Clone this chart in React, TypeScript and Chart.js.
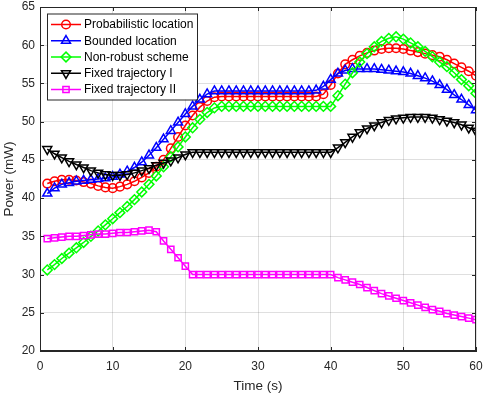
import React, { useEffect, useRef } from "react";
import { Chart, registerables } from "chart.js";

Chart.register(...registerables);

const times = [
  1, 2, 3, 4, 5, 6, 7, 8, 9, 10, 11, 12, 13, 14, 15, 16, 17, 18, 19, 20,
  21, 22, 23, 24, 25, 26, 27, 28, 29, 30, 31, 32, 33, 34, 35, 36, 37, 38, 39, 40,
  41, 42, 43, 44, 45, 46, 47, 48, 49, 50, 51, 52, 53, 54, 55, 56, 57, 58, 59, 60,
];

const probabilistic = [
  41.9, 42.2, 42.4, 42.4, 42.3, 42.1, 41.9, 41.6, 41.4, 41.3,
  41.5, 41.8, 42.2, 42.7, 43.3, 44.1, 45.0, 46.5, 48.0, 49.5,
  50.8, 51.9, 52.7, 53.2, 53.3, 53.3, 53.3, 53.3, 53.3, 53.3,
  53.3, 53.3, 53.3, 53.3, 53.3, 53.3, 53.3, 53.3, 53.6, 54.8,
  56.3, 57.5, 58.1, 58.6, 59.0, 59.3, 59.5, 59.6, 59.6, 59.5,
  59.3, 59.1, 58.9, 58.7, 58.5, 58.1, 57.6, 57.1, 56.6, 56.0,
];

const bounded = [
  40.6, 41.3, 41.8, 42.0, 42.2, 42.3, 42.4, 42.5, 42.6, 42.8,
  43.1, 43.5, 44.0, 44.7, 45.6, 46.6, 47.7, 48.8, 49.9, 51.0,
  52.0, 52.9, 53.6, 54.0, 54.0, 54.0, 54.0, 54.0, 54.0, 54.0,
  54.0, 54.0, 54.0, 54.0, 54.0, 54.0, 54.0, 54.1, 54.6, 55.5,
  56.3, 56.7, 56.9, 56.9, 56.9, 56.9, 56.8, 56.7, 56.6, 56.5,
  56.3, 56.0, 55.7, 55.3, 54.8, 54.2, 53.5, 52.9, 52.2, 51.5,
];

const nonRobust = [
  30.6, 31.3, 32.1, 32.8, 33.5, 34.2, 35.0, 35.7, 36.5, 37.3,
  38.1, 38.9, 39.8, 40.8, 41.8, 42.9, 44.1, 45.4, 46.7, 48.0,
  49.2, 50.3, 51.2, 51.8, 52.0, 52.0, 52.0, 52.0, 52.0, 52.0,
  52.0, 52.0, 52.0, 52.0, 52.0, 52.0, 52.0, 52.0, 52.0, 52.0,
  53.4, 54.9, 56.4, 57.8, 58.9, 59.8, 60.5, 60.9, 61.1, 60.8,
  60.3, 59.8, 59.2, 58.5, 57.8, 57.2, 56.4, 55.5, 54.7, 53.7,
];

const fixedI = [
  46.4, 45.8, 45.3, 44.8, 44.4, 44.0, 43.6, 43.3, 43.1, 43.0,
  43.0, 43.1, 43.3, 43.6, 43.9, 44.3, 44.6, 44.9, 45.3, 45.7,
  46.0, 46.0, 46.0, 46.0, 46.0, 46.0, 46.0, 46.0, 46.0, 46.0,
  46.0, 46.0, 46.0, 46.0, 46.0, 46.0, 46.0, 46.0, 46.0, 46.0,
  46.6, 47.3, 48.0, 48.6, 49.1, 49.5, 49.9, 50.2, 50.4, 50.5,
  50.6, 50.6, 50.6, 50.5, 50.3, 50.1, 49.9, 49.6, 49.2, 48.8,
];

const fixedII = [
  34.7, 34.8, 34.9, 35.0, 35.0, 35.1, 35.2, 35.3, 35.3, 35.4,
  35.5, 35.5, 35.6, 35.7, 35.8, 35.6, 34.4, 33.3, 32.2, 31.1,
  30.0, 30.0, 30.0, 30.0, 30.0, 30.0, 30.0, 30.0, 30.0, 30.0,
  30.0, 30.0, 30.0, 30.0, 30.0, 30.0, 30.0, 30.0, 30.0, 30.0,
  29.6, 29.3, 29.0, 28.7, 28.3, 27.9, 27.5, 27.2, 26.9, 26.6,
  26.3, 26.0, 25.7, 25.4, 25.2, 24.9, 24.7, 24.5, 24.3, 24.1,
];

const seriesLabels = [
  "Probabilistic location",
  "Bounded location",
  "Non-robust scheme",
  "Fixed trajectory I",
  "Fixed trajectory II",
];
const seriesValues = [probabilistic, bounded, nonRobust, fixedI, fixedII];
const seriesColors = ["#ff0000", "#0000ff", "#00ff00", "#000000", "#ff00ff"];
const seriesMarkers = ["circle", "triangle", "rectRot", "triangleDown", "rect"];

const xTicks = [0, 10, 20, 30, 40, 50, 60];
const yTicks = [20, 25, 30, 35, 40, 45, 50, 55, 60, 65];

const AXIS_COLOR = "#262626";
const FONT_FAMILY = "'Liberation Sans', Arial, Helvetica, sans-serif";

function markerRadius(m: string) {
  if (m === "circle") return 4.3;
  if (m === "rect") return 4.4;
  if (m === "rectRot") return 4.9;
  return 5.2;
}

function drawMarker(ctx: CanvasRenderingContext2D, m: string, x: number, y: number, color: string) {
  const r = markerRadius(m);
  ctx.save();
  ctx.strokeStyle = color;
  ctx.lineWidth = 1.5;
  ctx.beginPath();
  if (m === "circle") {
    ctx.arc(x, y, r, 0, Math.PI * 2);
  } else if (m === "rect") {
    const s = r * Math.SQRT1_2;
    ctx.rect(x - s, y - s, 2 * s, 2 * s);
  } else if (m === "rectRot") {
    ctx.moveTo(x, y - r);
    ctx.lineTo(x + r, y);
    ctx.lineTo(x, y + r);
    ctx.lineTo(x - r, y);
    ctx.closePath();
  } else {
    const dir = m === "triangle" ? 1 : -1;
    for (let i = 0; i < 3; i++) {
      const a = (i * 2 * Math.PI) / 3;
      const px = x + Math.sin(a) * r;
      const py = y - dir * Math.cos(a) * r;
      if (i === 0) ctx.moveTo(px, py);
      else ctx.lineTo(px, py);
    }
    ctx.closePath();
  }
  ctx.stroke();
  ctx.restore();
}

const framePlugin = {
  id: "frameAndLegend",
  afterDraw(chart: any) {
    const ctx: CanvasRenderingContext2D = chart.ctx;
    const { left, right, top, bottom } = chart.chartArea;
    const xs = chart.scales.x;
    const ys = chart.scales.y;
    ctx.save();
    ctx.strokeStyle = AXIS_COLOR;
    ctx.lineWidth = 1;
    ctx.strokeRect(left + 0.5, top + 0.5, right - left - 1, bottom - top - 1);
    const tl = 4;
    ctx.beginPath();
    for (const t of xTicks) {
      const px = Math.round(xs.getPixelForValue(t)) + 0.5;
      ctx.moveTo(px, bottom);
      ctx.lineTo(px, bottom - tl);
      ctx.moveTo(px, top);
      ctx.lineTo(px, top + tl);
    }
    for (const t of yTicks) {
      const py = Math.round(ys.getPixelForValue(t)) + 0.5;
      ctx.moveTo(left, py);
      ctx.lineTo(left + tl, py);
      ctx.moveTo(right, py);
      ctx.lineTo(right - tl, py);
    }
    ctx.stroke();

    // legend box
    const bx = 47, by = 13.5, bw = 150, bh = 86;
    ctx.fillStyle = "#ffffff";
    ctx.fillRect(bx, by, bw, bh);
    ctx.strokeStyle = AXIS_COLOR;
    ctx.lineWidth = 1;
    ctx.strokeRect(bx + 0.5, by + 0.5, bw, bh);
    ctx.font = `12px ${FONT_FAMILY}`;
    ctx.textBaseline = "middle";
    ctx.textAlign = "left";
    seriesLabels.forEach((label, i) => {
      const ry = 24.5 + i * 16.25;
      ctx.strokeStyle = seriesColors[i];
      ctx.lineWidth = 1.5;
      ctx.beginPath();
      ctx.moveTo(51, ry);
      ctx.lineTo(81, ry);
      ctx.stroke();
      drawMarker(ctx, seriesMarkers[i], 66, ry, seriesColors[i]);
      ctx.fillStyle = "#000000";
      ctx.fillText(label, 84, ry + 0.5);
    });
    ctx.restore();
  },
};

export default function App() {
  const canvasRef = useRef<HTMLCanvasElement | null>(null);

  useEffect(() => {
    document.body.style.margin = "0";
    const canvas = canvasRef.current;
    if (!canvas) return;
    const datasets = seriesValues.map((vals, i) => {
      const m = seriesMarkers[i];
      return {
        label: seriesLabels[i],
        data: times.map((t, k) => ({ x: t, y: vals[k] })),
        borderColor: seriesColors[i],
        backgroundColor: "rgba(0,0,0,0)",
        borderWidth: 1.5,
        pointStyle: m === "triangleDown" ? "triangle" : m,
        pointRotation: m === "triangleDown" ? 180 : 0,
        pointRadius: markerRadius(m),
        pointBorderWidth: 1.5,
        pointBorderColor: seriesColors[i],
        pointBackgroundColor: "rgba(0,0,0,0)",
        tension: 0,
        order: seriesValues.length - 1 - i,
      };
    });
    const tickFont = { family: FONT_FAMILY, size: 12 };
    const titleFont = { family: FONT_FAMILY, size: 13.5 };
    const chart = new Chart(canvas, {
      type: "line",
      data: { datasets },
      plugins: [framePlugin],
      options: {
        responsive: false,
        animation: false,
        devicePixelRatio: 1,
        layout: { padding: { top: 7, right: 9, left: 0, bottom: 0 } },
        plugins: { legend: { display: false }, tooltip: { enabled: false } },
        scales: {
          x: {
            type: "linear",
            min: 0,
            max: 60,
            afterBuildTicks: (s: any) => {
              s.ticks = xTicks.map((v) => ({ value: v }));
            },
            ticks: { font: tickFont, color: AXIS_COLOR, padding: 8, maxRotation: 0 },
            grid: { color: "rgba(38,38,38,0.15)", drawTicks: false, lineWidth: 1 },
            border: { color: AXIS_COLOR, width: 1 },
            title: {
              display: true,
              text: "Time (s)",
              font: titleFont,
              color: AXIS_COLOR,
              padding: { top: 0, bottom: 1 },
            },
            afterFit: (s: any) => {
              s.height = 44;
              s.paddingLeft = 0;
              s.paddingRight = 0;
              s.paddingTop = 0;
              s.paddingBottom = 0;
            },
          },
          y: {
            type: "linear",
            min: 20,
            max: 65,
            afterBuildTicks: (s: any) => {
              s.ticks = yTicks.map((v) => ({ value: v }));
            },
            ticks: { font: tickFont, color: AXIS_COLOR, padding: 5 },
            grid: { color: "rgba(38,38,38,0.15)", drawTicks: false, lineWidth: 1 },
            border: { color: AXIS_COLOR, width: 1 },
            title: {
              display: true,
              text: "Power (mW)",
              font: titleFont,
              color: AXIS_COLOR,
              padding: { top: 1, bottom: 0 },
            },
            afterFit: (s: any) => {
              s.width = 40;
              s.paddingLeft = 0;
              s.paddingRight = 0;
              s.paddingTop = 0;
              s.paddingBottom = 0;
            },
          },
        },
      } as any,
    });
    return () => chart.destroy();
  }, []);

  return (
    <div style={{ width: 485, height: 395 }}>
      <canvas ref={canvasRef} width={485} height={395} style={{ display: "block" }} />
    </div>
  );
}
